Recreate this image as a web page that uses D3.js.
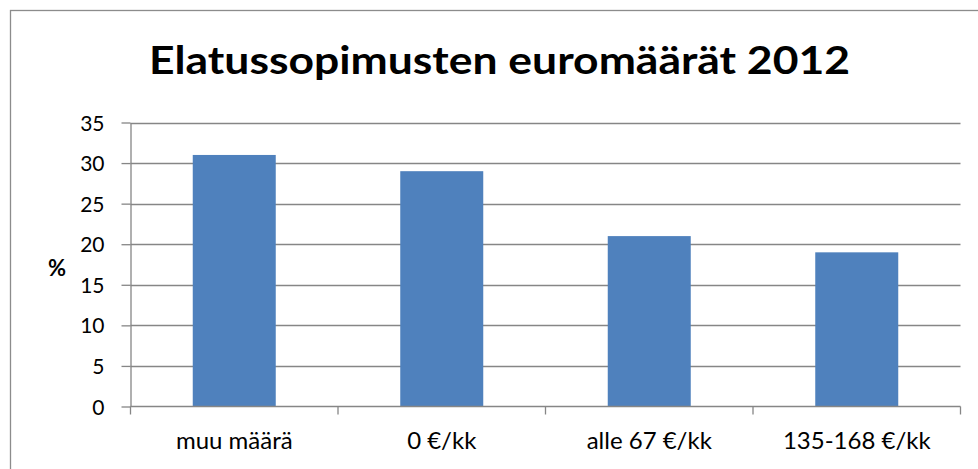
<!DOCTYPE html>
<html lang="fi">
<head>
  <meta charset="UTF-8">
  <title>Elatussopimusten euromäärät 2012</title>
  <script src="https://d3js.org/d3.v7.min.js"></script>
  <style>
    body {
      margin: 0;
      background: #fff;
      font-family: Lato, "Open Sans", sans-serif;
    }
    svg { display: block; }
  </style>
</head>
<body>
  <svg id="chart"></svg>
  <script>
    const title = "Elatussopimusten euromäärät 2012";
    const categories = ["muu määrä", "0 €/kk", "alle 67 €/kk", "135-168 €/kk"];
    const values = [31, 29, 21, 19];
    const yTicks = [0, 5, 10, 15, 20, 25, 30, 35];
    const yLabel = "%";

    const width = 978;
    const height = 469;
    const plot = { left: 130.5, right: 960.5, top: 122.5, bottom: 406.5 };
    const gray = "#868686";

    const svg = d3.select("#chart")
      .attr("width", width)
      .attr("height", height);

    // chart border
    svg.append("rect")
      .attr("x", 10.5)
      .attr("y", 10.5)
      .attr("width", 980)
      .attr("height", 480)
      .attr("fill", "none")
      .attr("stroke", "#8c8c8c")
      .attr("stroke-width", 1.3);

    // title
    svg.append("text")
      .attr("x", 499.5)
      .attr("y", 74)
      .attr("text-anchor", "middle")
      .attr("font-size", 39)
      .attr("font-weight", "bold")
      .attr("textLength", 701)
      .attr("lengthAdjust", "spacingAndGlyphs")
      .text(title);

    // scales
    const x = d3.scaleBand()
      .domain(categories)
      .range([plot.left, plot.right])
      .padding(0);

    const y = d3.scaleLinear()
      .domain([0, 35])
      .range([plot.bottom, plot.top]);

    // gridlines
    svg.append("g")
      .selectAll("line")
      .data(yTicks.filter(d => d > 0))
      .enter()
      .append("line")
      .attr("x1", plot.left)
      .attr("x2", plot.right)
      .attr("y1", d => Math.round(y(d)) + 0.5)
      .attr("y2", d => Math.round(y(d)) + 0.5)
      .attr("stroke", gray)
      .attr("stroke-width", 1.3);

    // bars (gap width 150%)
    const barW = x.bandwidth() * 0.4;
    svg.append("g")
      .selectAll("rect")
      .data(values)
      .enter()
      .append("rect")
      .attr("x", (d, i) => x(categories[i]) + (x.bandwidth() - barW) / 2)
      .attr("y", d => y(d))
      .attr("width", barW)
      .attr("height", d => y(0) - y(d))
      .attr("fill", "#4f81bd");

    // y axis
    const yAxis = d3.axisLeft(y)
      .tickValues(yTicks)
      .tickSize(9)
      .tickPadding(17)
      .tickSizeOuter(0);

    const yG = svg.append("g")
      .attr("transform", `translate(${plot.left},0)`)
      .call(yAxis);
    yG.selectAll("line, path").attr("stroke", gray).attr("stroke-width", 1.3);
    yG.selectAll("text")
      .attr("font-family", "Lato, sans-serif")
      .attr("font-size", 21)
      .attr("fill", "#000")
      .attr("dy", "0.36em");

    // x axis line
    svg.append("line")
      .attr("x1", plot.left)
      .attr("x2", plot.right)
      .attr("y1", plot.bottom)
      .attr("y2", plot.bottom)
      .attr("stroke", gray)
      .attr("stroke-width", 1.3);

    // category boundary ticks
    const bounds = categories.map(c => x(c)).concat([plot.right]);
    svg.append("g")
      .selectAll("line")
      .data(bounds)
      .enter()
      .append("line")
      .attr("x1", d => d)
      .attr("x2", d => d)
      .attr("y1", plot.bottom)
      .attr("y2", plot.bottom + 8)
      .attr("stroke", gray)
      .attr("stroke-width", 1.3);

    // category labels
    svg.append("g")
      .selectAll("text")
      .data(categories)
      .enter()
      .append("text")
      .attr("x", d => x(d) + x.bandwidth() / 2)
      .attr("y", 449)
      .attr("text-anchor", "middle")
      .attr("font-size", 24)
      .text(d => d);

    // y axis title
    svg.append("text")
      .attr("x", 57)
      .attr("y", 276)
      .attr("text-anchor", "middle")
      .attr("font-size", 22)
      .attr("font-weight", "bold")
      .text(yLabel);
  </script>
</body>
</html>
